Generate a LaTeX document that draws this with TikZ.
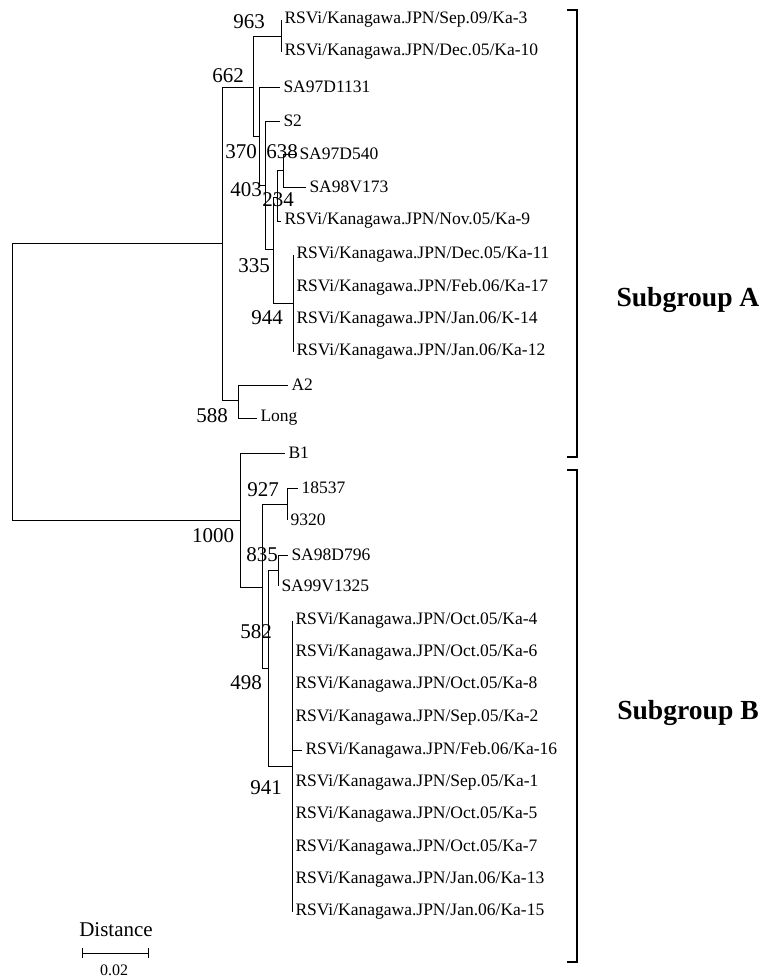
\documentclass[tikz,border=0pt]{standalone}
\usepackage{fontspec}
\setmainfont{Liberation Serif}
\usetikzlibrary{arrows.meta}

\begin{document}
\begin{tikzpicture}[x=0.5pt,y=-0.5pt,line width=0.5pt,
  leaf/.style={anchor=west,inner sep=1.5pt,font=\fontsize{8.75}{10}\selectfont},
  boot/.style={inner sep=0pt,font=\fontsize{10.5}{12}\selectfont},
  group/.style={font=\fontsize{13.8}{16}\selectfont\bfseries}]
\useasboundingbox (0,0) rectangle (763,976);
% inner nodes of the tree
\coordinate (root) at (12,381);
\coordinate (nA) at (222,243);
\coordinate (n662) at (253,87);
\coordinate (n963) at (281,36);
\coordinate (n370) at (259,136);
\coordinate (n403) at (265,185);
\coordinate (n335) at (273,249);
\coordinate (n234) at (277,197);
\coordinate (n638) at (283,170);
\coordinate (n944) at (293,303);
\coordinate (n588) at (238,400);
\coordinate (nB) at (240,520);
\coordinate (nX) at (262,587);
\coordinate (n927) at (287,504);
\coordinate (nY) at (268,668);
\coordinate (n835) at (278,570);
\coordinate (n941) at (292,766);
% subgroup A
\node[leaf] (a1) at (281,20){RSVi/Kanagawa.JPN/Sep.09/Ka-3};
\node[leaf] (a2) at (281,52){RSVi/Kanagawa.JPN/Dec.05/Ka-10};
\node[leaf] (a3) at (280,87){SA97D1131};
\node[leaf] (a4) at (280,121){S2};
\node[leaf] (a5) at (296,154){SA97D540};
\node[leaf] (a6) at (306,187){SA98V173};
\node[leaf] (a7) at (281,221){RSVi/Kanagawa.JPN/Nov.05/Ka-9};
\node[leaf] (a8) at (293,255){RSVi/Kanagawa.JPN/Dec.05/Ka-11};
\node[leaf] (a9) at (293,287){RSVi/Kanagawa.JPN/Feb.06/Ka-17};
\node[leaf] (a10) at (293,320){RSVi/Kanagawa.JPN/Jan.06/K-14};
\node[leaf] (a11) at (293,352){RSVi/Kanagawa.JPN/Jan.06/Ka-12};
\node[leaf] (a12) at (288,385){A2};
\node[leaf] (a13) at (257,418){Long};
% subgroup B
\node[leaf] (b1) at (285,453){B1};
\node[leaf] (b2) at (298,488){18537};
\node[leaf] (b3) at (287,520){9320};
\node[leaf] (b4) at (288,555){SA98D796};
\node[leaf] (b5) at (278,586){SA99V1325};
\node[leaf] (b6) at (292,621){RSVi/Kanagawa.JPN/Oct.05/Ka-4};
\node[leaf] (b7) at (292,653){RSVi/Kanagawa.JPN/Oct.05/Ka-6};
\node[leaf] (b8) at (292,685){RSVi/Kanagawa.JPN/Oct.05/Ka-8};
\node[leaf] (b9) at (292,718){RSVi/Kanagawa.JPN/Sep.05/Ka-2};
\node[leaf] (b10) at (302,750){RSVi/Kanagawa.JPN/Feb.06/Ka-16};
\node[leaf] (b11) at (292,783){RSVi/Kanagawa.JPN/Sep.05/Ka-1};
\node[leaf] (b12) at (292,815){RSVi/Kanagawa.JPN/Oct.05/Ka-5};
\node[leaf] (b13) at (292,848){RSVi/Kanagawa.JPN/Oct.05/Ka-7};
\node[leaf] (b14) at (292,880){RSVi/Kanagawa.JPN/Jan.06/Ka-13};
\node[leaf] (b15) at (292,912){RSVi/Kanagawa.JPN/Jan.06/Ka-15};
% branches
\foreach \p/\c in {root/nA,root/nB,nA/n662,nA/n588,n662/n963,n662/n370,n370/n403,
  n403/n335,n335/n234,n335/n944,n234/n638,nB/nX,nX/n927,nX/nY,nY/n835,nY/n941}
  \draw (\p) |- (\c);
\foreach \p/\c in {n963/a1,n963/a2,n370/a3,n403/a4,n638/a5,n638/a6,n234/a7,
  n944/a8,n944/a9,n944/a10,n944/a11,n588/a12,n588/a13,nB/b1,n927/b2,n927/b3,
  n835/b4,n835/b5,n941/b6,n941/b7,n941/b8,n941/b9,n941/b10,n941/b11,n941/b12,
  n941/b13,n941/b14,n941/b15}
  \draw (\p) |- (\c.west);
% bootstrap values
\node[boot] (l963) at (249,22){963};
\node[boot] (l662) at (228,76){662};
\node[boot] (l370) at (241,152){370};
\node[boot] (l638) at (282,152){638};
\node[boot] (l403) at (246,190){403};
\node[boot] (l234) at (278,200){234};
\node[boot] (l335) at (254,266){335};
\node[boot] (l944) at (267,318){944};
\node[boot] (l588) at (212,416){588};
\node[boot] (l1000) at (213,536){1000};
\node[boot] (l927) at (263,490){927};
\node[boot] (l835) at (262,555){835};
\node[boot] (l582) at (256,632){582};
\node[boot] (l498) at (246,683){498};
\node[boot] (l941) at (266,788){941};
% brackets
\draw[line width=0.9pt] (567,10) -- (577,10) -- (577,457) -- (567,457);
\draw[line width=0.9pt] (567,470) -- (577,470) -- (577,962) -- (567,962);
\node[group] (ga) at (688,300){Subgroup A};
\node[group] (gb) at (688,713){Subgroup B};
% scale
\coordinate (s0) at (82,953);
\coordinate (s1) at (149,953);
\draw[{Bar[width=5pt]}-{Bar[width=5pt]}] (s0) -- (s1);
\node[boot] (dist) at (116,930){Distance};
\node[inner sep=0pt,font=\fontsize{8}{10}\selectfont] (sc) at (114,970){0.02};
\end{tikzpicture}
\end{document}
